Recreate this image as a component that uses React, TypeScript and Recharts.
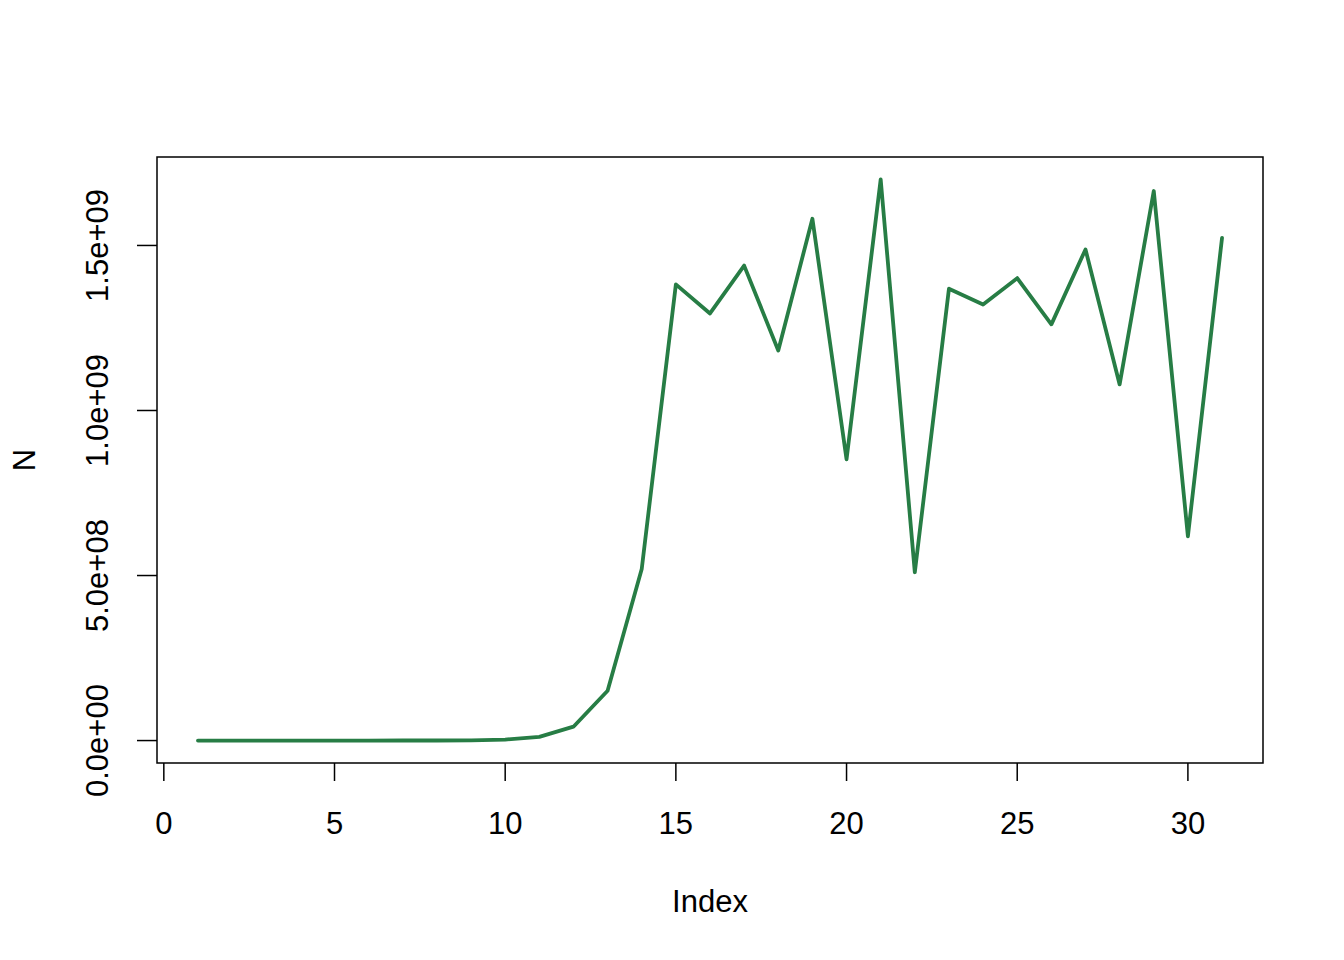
import { LineChart, Line, XAxis, YAxis, ReferenceArea } from "recharts";

const indexValues = [
  1, 2, 3, 4, 5, 6, 7, 8, 9, 10, 11, 12, 13, 14, 15, 16,
  17, 18, 19, 20, 21, 22, 23, 24, 25, 26, 27, 28, 29, 30, 31,
];
const nValues = [
  0, 0, 0, 0, 0, 0, 1e5, 2e5, 8e5, 3e6, 1.1e7, 4.2e7, 1.51e8, 5.2e8,
  1.382e9, 1.294e9, 1.439e9, 1.182e9, 1.581e9, 8.52e8, 1.7e9, 5.1e8,
  1.369e9, 1.321e9, 1.401e9, 1.261e9, 1.488e9, 1.079e9, 1.665e9, 6.19e8, 1.523e9,
];
const xTicks = [0, 5, 10, 15, 20, 25, 30];
const yTicks = [0, 5e8, 1e9, 1.5e9];
const yTickLabels = ["0.0e+00", "5.0e+08", "1.0e+09", "1.5e+09"];

const data = indexValues.map((idx, i) => ({ idx, n: nValues[i] }));

const FONT = '"Liberation Sans", Arial, Helvetica, sans-serif';
const LINE_COLOR = "#277D45";
const xDomain: [number, number] = [-0.2, 32.2];
const yDomain: [number, number] = [-0.068e9, 1.768e9];

function YTick(props: any) {
  const { x, y, payload } = props;
  const i = yTicks.indexOf(payload.value);
  return (
    <text
      x={x}
      y={y}
      transform={`rotate(-90, ${x}, ${y})`}
      textAnchor="middle"
      fontSize={31}
      fontFamily={FONT}
      fill="#000"
    >
      {i >= 0 ? yTickLabels[i] : ""}
    </text>
  );
}

export default function App() {
  return (
    <div style={{ position: "absolute", left: 0, top: 0, width: 1344, height: 960, background: "#fff" }}>
      <LineChart
        width={1344}
        height={960}
        data={data}
        margin={{ top: 157, right: 81, bottom: 0, left: 0 }}
      >
        <XAxis
          dataKey="idx"
          type="number"
          domain={xDomain}
          ticks={xTicks}
          allowDataOverflow
          height={197}
          axisLine={false}
          tickLine={{ stroke: "#000", strokeWidth: 1.5 }}
          tickSize={18}
          tickMargin={31}
          tick={{ fill: "#000", fontSize: 31, fontFamily: FONT }}
          label={{
            content: (p: any) => {
              const vb = p.viewBox;
              return (
                <text x={vb.x + vb.width / 2} y={vb.y + 149} textAnchor="middle" fontSize={31} fontFamily={FONT} fill="#000">
                  Index
                </text>
              );
            },
          }}
        />
        <YAxis
          type="number"
          domain={yDomain}
          ticks={yTicks}
          allowDataOverflow
          width={157}
          axisLine={false}
          tickLine={{ stroke: "#000", strokeWidth: 1.5 }}
          tickSize={20}
          tickMargin={29}
          tick={<YTick />}
          label={{
            content: (p: any) => {
              const vb = p.viewBox;
              const cx = 35;
              const cy = vb.y + vb.height / 2;
              return (
                <text x={cx} y={cy} transform={`rotate(-90, ${cx}, ${cy})`} textAnchor="middle" fontSize={31} fontFamily={FONT} fill="#000">
                  N
                </text>
              );
            },
          }}
        />
        <ReferenceArea
          x1={xDomain[0]}
          x2={xDomain[1]}
          y1={yDomain[0]}
          y2={yDomain[1]}
          fill="none"
          stroke="#000"
          strokeWidth={1.5}
          ifOverflow="visible"
        />
        <Line
          type="linear"
          dataKey="n"
          stroke={LINE_COLOR}
          strokeWidth={3.8}
          strokeLinecap="round"
          strokeLinejoin="round"
          dot={false}
          isAnimationActive={false}
        />
      </LineChart>
    </div>
  );
}
